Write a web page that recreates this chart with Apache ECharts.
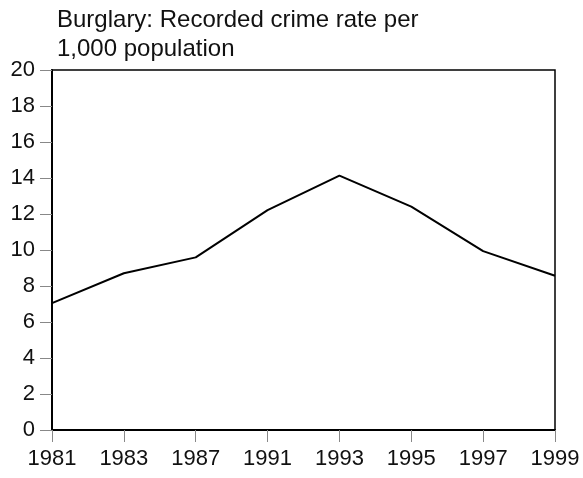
<!DOCTYPE html>
<html>
<head>
<meta charset="utf-8">
<script src="https://cdn.jsdelivr.net/npm/echarts@6/dist/echarts.min.js"></script>
<style>
  html, body { margin: 0; padding: 0; background: #fff; }
  #chart { width: 583px; height: 478px; }
</style>
</head>
<body>
<div id="chart"></div>
<script>
// recorded burglaries per 1,000 population
const years = ['1981', '1983', '1987', '1991', '1993', '1995', '1997', '1999']
const burglaryRate = [7.05, 8.71, 9.59, 12.22, 14.13, 12.41, 9.94, 8.57]
const yTicks = { min: 0, max: 20, step: 2 }

const chart = echarts.init(document.getElementById('chart'))
const font = 'Liberation Sans, Arial, sans-serif'

chart.setOption({
	animation: false,
	title: {
		text: 'Burglary: Recorded crime rate per\n1,000 population',
		left: 57,
		top: 6,
		padding: 0,
		textStyle: {
			fontFamily: font,
			fontSize: 24,
			fontWeight: 'normal',
			color: '#111',
			lineHeight: 29
		}
	},
	grid: {
		left: 52,
		right: 28,
		top: 70,
		bottom: 48,
		show: true,
		borderColor: '#000',
		borderWidth: 1.5
	},
	xAxis: {
		type: 'category',
		data: years,
		boundaryGap: false,
		axisLine: { lineStyle: { color: '#000', width: 2 } },
		axisTick: { length: 12, lineStyle: { color: '#888' } },
		axisLabel: { fontFamily: font, fontSize: 22, color: '#111', margin: 18 },
		splitLine: { show: false }
	},
	yAxis: {
		type: 'value',
		min: yTicks.min,
		max: yTicks.max,
		interval: yTicks.step,
		axisLine: { show: true, lineStyle: { color: '#000', width: 2 } },
		axisTick: { show: true, length: 12, lineStyle: { color: '#888' } },
		axisLabel: { fontFamily: font, fontSize: 22, color: '#111', margin: 17 },
		splitLine: { show: false }
	},
	series: [{
		name: 'Burglary',
		type: 'line',
		data: burglaryRate,
		symbol: 'none',
		lineStyle: { color: '#000', width: 2 }
	}]
})
</script>
</body>
</html>
